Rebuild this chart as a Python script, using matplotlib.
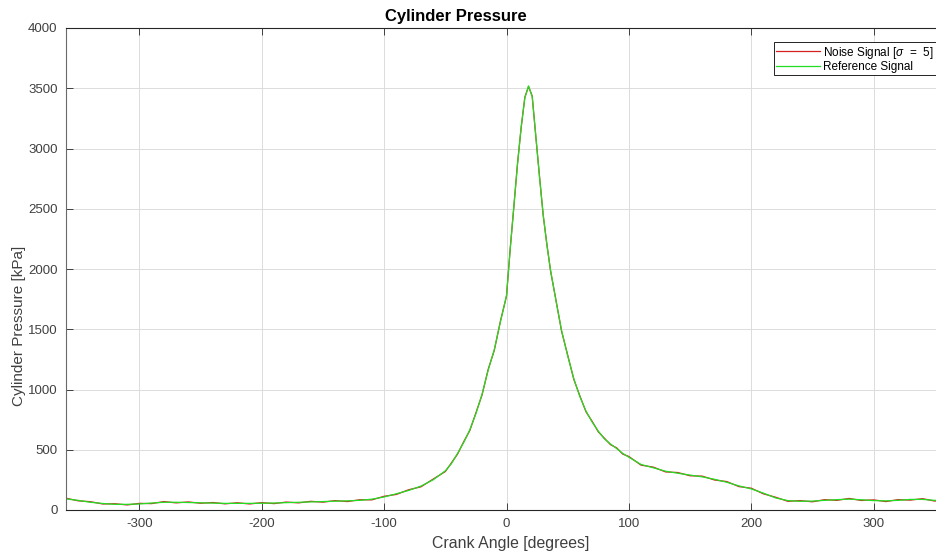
import matplotlib
matplotlib.use("Agg")
import matplotlib.pyplot as plt

plt.rcParams['font.family'] = ['Liberation Sans', 'DejaVu Sans']
plt.rcParams['mathtext.fontset'] = 'custom'
plt.rcParams['mathtext.it'] = 'Liberation Sans:italic'
plt.rcParams['mathtext.rm'] = 'Liberation Sans'
plt.rcParams['axes.unicode_minus'] = False

# Crank angle samples [degrees]
crank_angle = [-360, -350, -340, -330, -320, -310, -300, -290, -280, -270,
               -260, -250, -240, -230, -220, -210, -200, -190, -180, -170,
               -160, -150, -140, -130, -120, -110, -100, -90, -80, -70,
               -60, -50, -45, -40, -35, -30, -25, -20, -15, -10,
               -5, 0, 3, 6, 9, 12, 15, 18, 21, 24,
               27, 30, 33, 36, 40, 45, 50, 55, 60, 65,
               70, 75, 80, 85, 90, 95, 100, 110, 120, 130,
               140, 150, 160, 170, 180, 190, 200, 210, 220, 230,
               240, 250, 260, 270, 280, 290, 300, 310, 320, 330,
               340, 350, 360]

# Reference cylinder pressure [kPa]
reference_pressure = [92, 80, 64, 54, 47, 47, 50, 58, 64, 64,
                      62, 60, 57, 55, 55, 55, 56, 58, 61, 64,
                      67, 70, 73, 76, 80, 90, 108, 135, 162, 198,
                      250, 325, 385, 470, 560, 665, 800, 960, 1160, 1330,
                      1560, 1780, 2160, 2520, 2870, 3180, 3420, 3520, 3430, 3100,
                      2760, 2450, 2200, 1990, 1760, 1490, 1280, 1090, 940, 820,
                      730, 655, 590, 548, 510, 470, 438, 378, 350, 322,
                      305, 290, 275, 255, 230, 200, 175, 140, 100, 78,
                      72, 74, 80, 86, 90, 85, 78, 76, 80, 88,
                      88, 80, 82]

# Measured (noisy) cylinder pressure [kPa]
noise_pressure = [98, 76, 69, 50, 52, 42, 55, 53, 70, 59,
                  67, 56, 62, 51, 60, 50, 61, 53, 66, 59,
                  72, 65, 78, 70, 85, 84, 114, 129, 168, 192,
                  256, 319, 391, 464, 566, 659, 806, 954, 1166, 1324,
                  1566, 1774, 2166, 2514, 2876, 3174, 3426, 3514, 3436, 3094,
                  2766, 2444, 2206, 1984, 1766, 1484, 1286, 1084, 946, 814,
                  736, 649, 596, 542, 516, 464, 444, 372, 356, 316,
                  311, 284, 281, 249, 236, 194, 181, 134, 106, 72,
                  78, 68, 86, 80, 96, 79, 84, 70, 86, 82,
                  94, 74, 88]

x_ticks = [-300, -200, -100, 0, 100, 200, 300]
y_ticks = [0, 500, 1000, 1500, 2000, 2500, 3000, 3500, 4000]

axis_color = '#262626'
label_color = '#404040'

fig = plt.figure(figsize=(9.36, 5.54), dpi=100)
fig.patch.set_facecolor('white')
ax = fig.add_axes([66 / 936, 44 / 554, 881 / 936, 482 / 554])

ax.plot(crank_angle, noise_pressure, color='#d42020', linewidth=0.9,
        label=r'Noise Signal [$\sigma$  =  5]')
ax.plot(crank_angle, reference_pressure, color='#22dd22', linewidth=0.9,
        label='Reference Signal')

ax.set_xlim(-360, 360)
ax.set_ylim(0, 4000)
ax.set_xticks(x_ticks)
ax.set_yticks(y_ticks)

ax.grid(True, color='#dcdcdc', linewidth=0.7)
ax.set_axisbelow(True)

ax.tick_params(direction='in', length=5, width=0.6, colors=axis_color,
               labelcolor=label_color, labelsize=9.5, top=True, right=True,
               pad=6)
for side, spine in ax.spines.items():
    spine.set_color(axis_color)
    spine.set_linewidth(0.8)
ax.spines['left'].set_color('#6a6a6a')

ax.set_title('Cylinder Pressure', fontsize=12, fontweight='bold',
             color='black', pad=5, x=0.4427)
ax.set_xlabel('Crank Angle [degrees]', fontsize=11.4, color=label_color)
ax.xaxis.set_label_coords(0.505, -0.053)
ax.set_ylabel('Cylinder Pressure [kPa]', fontsize=11, color=label_color)
ax.yaxis.set_label_coords(-0.0454, 0.3817)

leg = ax.legend(loc='upper right', bbox_to_anchor=(936 / 936, 1 - 42 / 554),
                bbox_transform=fig.transFigure, fontsize=8.5,
                fancybox=False, framealpha=1, edgecolor='black',
                borderpad=0.22, labelspacing=0.02, handlelength=3.7,
                handletextpad=0.25, borderaxespad=0)
leg.get_frame().set_linewidth(0.6)

fig.savefig('out.png', dpi=100, facecolor='white')
